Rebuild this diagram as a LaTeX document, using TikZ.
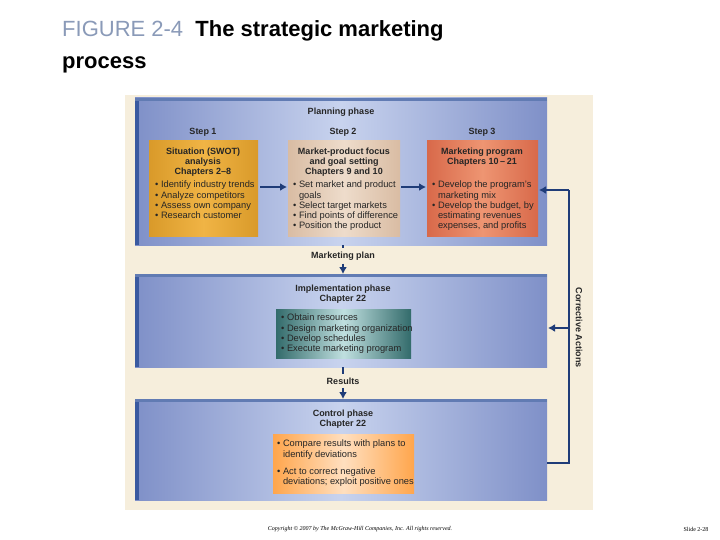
\documentclass[tikz,border=0pt]{standalone}
\usepackage{fontspec}
\setmainfont{Liberation Sans}
\newfontfamily\serifit{Liberation Serif}
\usetikzlibrary{arrows.meta}
\definecolor{cream}{HTML}{F6EEDC}
\definecolor{panelA}{HTML}{C8D3EE}
\definecolor{panelB}{HTML}{7F90C8}
\definecolor{navy}{HTML}{1F3C78}
\definecolor{edge}{HTML}{3A5AA0}
\definecolor{slate}{HTML}{8A9AB8}
\definecolor{s1a}{HTML}{D99A2A}\definecolor{s1b}{HTML}{F0B445}
\definecolor{s3a}{HTML}{D8694A}\definecolor{s3b}{HTML}{EE9572}
\definecolor{s2a}{HTML}{D9BCA3}\definecolor{s2b}{HTML}{EEDCCB}
\tikzset{
 panel/.style={inner sep=0pt,outer sep=0pt,left color=panelB,right color=panelB,middle color=panelA},
 txt/.style={font=\fontsize{9.3}{10.2}\selectfont,text=black!85},
 hd/.style={font=\fontsize{9}{10.2}\selectfont\bfseries,text=black!85,align=center},
 flow/.style={-{Latex[length=7pt,width=8pt]},line width=2.2pt,navy},
 bl/.style={txt,align=left,anchor=north west,inner sep=0pt},
}
\begin{document}
\begin{tikzpicture}[x=1pt,y=-1pt]
\useasboundingbox (0,0) rectangle (720,540);
\fill[white] (0,0) rectangle (720,540);
\fill[cream] (125,95) rectangle (593,510);
% title
\node[anchor=base west,font=\fontsize{22}{24}\selectfont,inner sep=0] (t1) at (62,37) {\textcolor{slate}{FIGURE 2-4}\ \ \textbf{The strategic marketing}};
\node[anchor=base west,font=\fontsize{22}{24}\selectfont\bfseries,inner sep=0] (t2) at (62,69) {process};
% panels
\foreach \n/\a/\b in {plan/98/245,impl/274/367,ctrl/399/500}{
 \path[panel] (135,\a) rectangle (547,\b);
 \fill[edge] (135,\a) rectangle (139,\b);
 \fill[edge!80] (135,\a) rectangle (547,\a+3);
 \coordinate (\n NW) at (135,\a);
}
\node[hd] (pp) at (341,112) {Planning phase};
\node[hd] (s1) at (203,132) {Step 1};
\node[hd] (s2) at (343,132) {Step 2};
\node[hd] (s3) at (482,132) {Step 3};
% step boxes
\path[left color=s1a,right color=s1a,middle color=s1b] (149,141) rectangle (258,236);
\path[left color=s2a,right color=s2a,middle color=s2b] (288,141) rectangle (400,236);
\path[left color=s3a,right color=s3a,middle color=s3b] (427,141) rectangle (538,236);
\node[hd,anchor=north] at (203,144) {Situation (SWOT)\\analysis\\Chapters 2--8};
\node[hd,anchor=north] at (344,144) {Market-product focus\\and goal setting\\Chapters 9 and 10};
\node[hd,anchor=north] at (482,144) {Marketing program\\Chapters 10\,--\,21};
\node[bl] at (155,181) {\textbullet\ Identify industry trends\\\textbullet\ Analyze competitors\\\textbullet\ Assess own company\\\textbullet\ Research customer};
\node[bl] at (293,181) {\textbullet\ Set market and product\\\phantom{\textbullet\ }goals\\\textbullet\ Select target markets\\\textbullet\ Find points of difference\\\textbullet\ Position the product};
\node[bl] at (432,181) {\textbullet\ Develop the program's\\\phantom{\textbullet\ }marketing mix\\\textbullet\ Develop the budget, by\\\phantom{\textbullet\ }estimating revenues\\\phantom{\textbullet\ }expenses, and profits};
\coordinate (r1) at (260,187); \coordinate (l2) at (287,187);
\coordinate (r2) at (401,187); \coordinate (l3) at (426,187);
\draw[flow] (r1) -- (l2);
\draw[flow] (r2) -- (l3);
% marketing plan
\node[hd] (mp) at (343,256) {Marketing plan};
\coordinate (pb) at (343,245); \coordinate (it) at (343,274);
\draw[navy,line width=2.2pt] (pb) -- (mp.north);
\draw[flow] (mp.south) -- (it);
% implementation
\node[hd] (ip) at (343,294) {Implementation phase\\Chapter 22};
\path[left color=teal!55!black!80,right color=teal!55!black!80,middle color=teal!25] (276,309) rectangle (411,358);
\node[bl] at (281,314) {\textbullet\ Obtain resources\\\textbullet\ Design marketing organization\\\textbullet\ Develop schedules\\\textbullet\ Execute marketing program};
% results
\node[hd] (rs) at (343,381) {Results};
\coordinate (ib) at (343,367); \coordinate (ct) at (343,399);
\draw[navy,line width=2.2pt] (ib) -- (rs.north);
\draw[flow] (rs.south) -- (ct);
% control
\node[hd] (cp) at (343,419) {Control phase\\Chapter 22};
\path[left color=orange!70,right color=orange!70,middle color=orange!25] (273,434) rectangle (414,493);
\node[bl] at (277,440) {\textbullet\ Compare results with plans to\\\phantom{\textbullet\ }identify deviations\\[7pt]\textbullet\ Act to correct negative\\\phantom{\textbullet\ }deviations; exploit positive ones};
% feedback
\coordinate (cr) at (547,463); \coordinate (fc) at (569,463);
\coordinate (ft) at (569,190); \coordinate (s3r) at (539,190);
\coordinate (fm) at (569,328); \coordinate (ir) at (548,328);
\draw[navy,line width=2.2pt] (cr) -- (fc) -- (ft);
\draw[flow] (ft) -- (s3r);
\draw[flow] (fm) -- (ir);
\node[hd,rotate=-90] (ca) at (579,328) {Corrective Actions};
% footer
\node[font=\serifit\itshape\fontsize{6}{7}\selectfont] (cpy) at (360,529) {Copyright © 2007 by The McGraw-Hill Companies, Inc. All rights reserved.};
\node[font=\serifit\fontsize{6}{7}\selectfont] (sl) at (696,529) {Slide 2-28};
\end{tikzpicture}
\end{document}
